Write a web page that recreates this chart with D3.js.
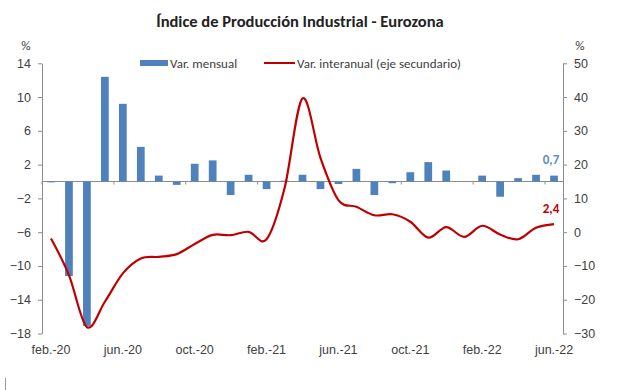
<!DOCTYPE html>
<html>
<head>
<meta charset="utf-8">
<script src="https://cdn.jsdelivr.net/npm/d3@7.9.0/dist/d3.min.js"></script>
<style>
  body { margin: 0; background: #fff; }
  svg { display: block; font-family: Carlito, Lato, "Open Sans", sans-serif; }
  .axis text { fill: #404040; font-size: 12.5px; }
  .axis path, .axis line { stroke: #8c8c8c; }
</style>
</head>
<body>
<svg id="chart" width="617" height="390"></svg>
<script>
// months on the category axis
const months = [
  "feb.-20", "mar.-20", "abr.-20", "may.-20", "jun.-20", "jul.-20", "ago.-20", "sep.-20",
  "oct.-20", "nov.-20", "dic.-20", "ene.-21", "feb.-21", "mar.-21", "abr.-21", "may.-21",
  "jun.-21", "jul.-21", "ago.-21", "sep.-21", "oct.-21", "nov.-21", "dic.-21", "ene.-22",
  "feb.-22", "mar.-22", "abr.-22", "may.-22", "jun.-22"
];

// Var. mensual (left axis, bars)
const varMensual = [
  -0.1, -11.2, -17.1, 12.4, 9.2, 4.1, 0.7, -0.4,
  2.1, 2.5, -1.6, 0.8, -0.9, 0.1, 0.8, -0.9,
  -0.3, 1.5, -1.6, -0.2, 1.1, 2.3, 1.3, 0.0,
  0.7, -1.8, 0.4, 0.8, 0.7
];

// Var. interanual (right axis, line)
const varInteranual = [
  -1.9, -12.7, -28.1, -20.6, -12.2, -7.8, -7.3, -6.5,
  -3.5, -0.8, -0.9, 0.1, -2.1, 13.0, 39.6, 22.0,
  9.5, 7.5, 5.0, 5.3, 3.1, -1.6, 1.5, -1.4,
  1.9, -0.7, -2.1, 1.3, 2.4
];

const leftTicks = [14, 10, 6, 2, -2, -6, -10, -14, -18];
const rightTicks = [50, 40, 30, 20, 10, 0, -10, -20, -30];
const xLabels = ["feb.-20", "jun.-20", "oct.-20", "feb.-21", "jun.-21", "oct.-21", "feb.-22", "jun.-22"];

const blue = "#4f81bd";
const red = "#c00000";

const svg = d3.select("#chart");
const plotLeft = 42, plotRight = 563, plotTop = 63.3, plotBottom = 333.5;

const x = d3.scaleBand().domain(months).range([plotLeft, plotRight]).paddingInner(0.57).paddingOuter(0.285);
const yL = d3.scaleLinear().domain([-18, 14]).range([plotBottom, plotTop]);
const yR = d3.scaleLinear().domain([-30, 50]).range([plotBottom, plotTop]);

// title
svg.append("text")
  .attr("x", 300).attr("y", 27)
  .attr("text-anchor", "middle")
  .attr("font-size", 16.5).attr("font-weight", "bold")
  .attr("fill", "#222")
  .text("Índice de Producción Industrial - Eurozona");

// % unit labels
svg.append("text").attr("x", 26).attr("y", 50).attr("text-anchor", "middle")
  .attr("font-size", 13).attr("fill", "#404040").text("%");
svg.append("text").attr("x", 580).attr("y", 50).attr("text-anchor", "middle")
  .attr("font-size", 13).attr("fill", "#404040").text("%");

// left axis
svg.append("g").attr("class", "axis")
  .attr("transform", `translate(${plotLeft},0)`)
  .call(d3.axisLeft(yL).tickValues(leftTicks).tickSize(4).tickSizeOuter(0).tickPadding(7));

// right axis
svg.append("g").attr("class", "axis")
  .attr("transform", `translate(${plotRight},0)`)
  .call(d3.axisRight(yR).tickValues(rightTicks).tickSize(4).tickSizeOuter(0).tickPadding(7));

// category axis on zero line
const zeroY = yL(0);
svg.append("line")
  .attr("x1", plotLeft).attr("x2", plotRight)
  .attr("y1", zeroY).attr("y2", zeroY)
  .attr("stroke", "#8c8c8c");

svg.append("g")
  .selectAll("line")
  .data(xLabels)
  .join("line")
  .attr("x1", d => x(d) - x.step() * x.paddingInner() / 2)
  .attr("x2", d => x(d) - x.step() * x.paddingInner() / 2)
  .attr("y1", zeroY).attr("y2", zeroY + 3)
  .attr("stroke", "#8c8c8c");

const xAxis = svg.append("g").attr("class", "axis")
  .attr("transform", `translate(0,${plotBottom + 9})`)
  .call(d3.axisBottom(x).tickValues(xLabels).tickSize(0).tickPadding(3));
xAxis.select(".domain").remove();

// bars
svg.append("g")
  .selectAll("rect")
  .data(varMensual)
  .join("rect")
  .attr("x", (d, i) => x(months[i]))
  .attr("width", x.bandwidth())
  .attr("y", d => yL(Math.max(0, d)))
  .attr("height", d => Math.abs(yL(d) - yL(0)))
  .attr("fill", blue);

// line
const line = d3.line()
  .x((d, i) => x(months[i]) + x.bandwidth() / 2)
  .y(d => yR(d))
  .curve(d3.curveCardinal.tension(0));

svg.append("path")
  .datum(varInteranual)
  .attr("d", line)
  .attr("fill", "none")
  .attr("stroke", red)
  .attr("stroke-width", 2.2);

// data labels for last point
const last = months.length - 1;
svg.append("text")
  .attr("x", x(months[last]) + x.bandwidth() / 2 - 3)
  .attr("y", yL(varMensual[last]) - 12)
  .attr("text-anchor", "middle")
  .attr("font-size", 13).attr("font-weight", "bold")
  .attr("fill", "#5b8fd0")
  .text(d3.format(".1f")(varMensual[last]).replace(".", ","));
svg.append("text")
  .attr("x", x(months[last]) + x.bandwidth() / 2 - 3)
  .attr("y", yR(varInteranual[last]) - 11)
  .attr("text-anchor", "middle")
  .attr("font-size", 13).attr("font-weight", "bold")
  .attr("fill", red)
  .text(d3.format(".1f")(varInteranual[last]).replace(".", ","));

// legend
const legend = svg.append("g").attr("font-size", 13).attr("fill", "#404040");
legend.append("rect").attr("x", 140).attr("y", 60).attr("width", 28).attr("height", 6).attr("fill", blue);
legend.append("text").attr("x", 170).attr("y", 67.5).text("Var. mensual");
legend.append("line").attr("x1", 264).attr("x2", 295).attr("y1", 63).attr("y2", 63)
  .attr("stroke", red).attr("stroke-width", 2);
legend.append("text").attr("x", 297).attr("y", 67.5).text("Var. interanual (eje secundario)");

// stray mark at lower-left corner
svg.append("line").attr("x1", 5.5).attr("x2", 5.5).attr("y1", 378).attr("y2", 390)
  .attr("stroke", "#999");
</script>
</body>
</html>
